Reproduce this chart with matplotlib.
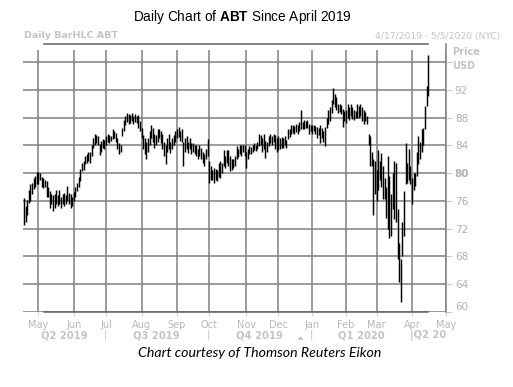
import matplotlib.pyplot as plt
import numpy as np
import pandas as pd

# trading calendar of the chart (NYSE holidays removed)
holidays = ['2019-04-19', '2019-05-27', '2019-07-04', '2019-09-02', '2019-11-28',
            '2019-12-25', '2020-01-01', '2020-01-20', '2020-02-17', '2020-04-10']
dates = pd.bdate_range('2019-04-17', '2020-05-05', freq='C', holidays=holidays)

# daily lows / highs of ABT, one line per month
low = [72.5, 72.9, 74.0, 75.7, 76.0, 77.0, 77.7, 78.0, 78.4,
       78.5, 79.0, 78.0, 77.8, 78.0, 76.5, 76.5, 75.0, 75.5, 74.6, 75.0, 75.5, 75.2, 75.5, 75.0, 75.5, 75.2, 75.5, 76.0, 75.5, 75.0, 75.3,
       76.0, 76.5, 77.4, 78.0, 78.9, 80.3, 80.5, 81.3, 81.5, 81.8, 81.4, 82.5, 83.6, 84.0, 84.3, 84.0, 82.6, 83.0, 83.6, 83.5,
       84.0, 84.5, 84.3, 84.6, 84.9, 85.0, 84.5, 83.5, 82.7, 83.0, 85.3, 86.0, 87.0, 87.3, 87.1, 87.2, 87.5, 87.1, 87.3, 87.2, 86.5, 86.0,
       85.0, 83.5, 82.7, 82.1, 83.0, 84.1, 85.0, 84.5, 83.6, 84.0, 84.5, 85.0, 84.3, 83.5, 82.5, 81.3, 83.0, 83.5, 82.9, 83.5, 84.1, 84.5,
       85.0, 85.2, 84.6, 84.5, 81.0, 83.0, 83.5, 82.9, 83.5, 82.7, 83.0, 82.7, 82.5, 82.0, 82.5, 82.0, 81.5, 81.0, 82.0, 82.5,
       78.6, 79.0, 79.0, 78.6, 79.0, 78.9, 79.5, 79.3, 80.0, 81.0, 80.7, 81.5, 81.0, 80.3, 80.5, 80.7, 81.0, 82.0, 82.3, 82.7, 82.5, 83.0, 82.5,
       80.7, 82.0, 82.7, 82.7, 83.0, 83.4, 83.2, 83.5, 83.9, 84.0, 83.1, 83.5, 82.2, 83.0, 83.9, 84.3, 84.0, 84.5, 83.5, 83.1,
       83.4, 83.5, 83.6, 83.6, 84.0, 83.6, 84.9, 85.2, 85.6, 85.8, 85.6, 85.9, 85.7, 86.0, 86.3, 86.3, 86.3, 86.5, 86.5, 85.7, 86.0,
       85.6, 86.0, 85.6, 85.0, 85.5, 84.3, 85.0, 84.5, 83.9, 86.5, 87.1, 87.5, 88.6, 89.9, 89.5, 89.1, 88.6, 88.8, 88.5, 86.7, 87.5,
       87.2, 88.0, 87.7, 88.2, 87.8, 87.7, 87.9, 88.0, 87.9, 88.2, 87.5, 87.1, 87.5, 87.1, 84.0, 81.0, 81.0, 74.0, 77.0,
       76.0, 77.5, 79.0, 78.0, 76.3, 76.3, 73.5, 72.0, 70.6, 71.0, 74.9, 73.4, 73.0, 67.7, 64.3, 61.4, 68.1, 71.0, 78.4, 78.6, 79.0, 78.5,
       75.6, 77.5, 78.1, 79.6, 81.3, 82.0, 83.1, 84.0, 86.4, 89.6, 91.1]
high = [76.4, 75.3, 76.2, 77.5, 78.4, 78.6, 79.3, 79.6, 80.1,
        80.2, 80.0, 79.5, 79.3, 79.0, 78.8, 78.0, 77.4, 77.0, 76.8, 77.0, 77.5, 76.8, 77.5, 76.5, 77.0, 77.2, 76.8, 78.1, 77.2, 77.0, 76.5,
        77.3, 78.0, 78.6, 79.5, 80.6, 81.5, 81.7, 82.5, 82.7, 83.1, 83.0, 84.0, 85.0, 85.6, 85.5, 85.3, 84.2, 84.6, 84.9, 84.8,
        85.3, 85.7, 85.5, 85.3, 86.3, 86.0, 85.8, 85.0, 84.3, 84.0, 86.5, 87.7, 88.3, 88.6, 88.5, 88.4, 88.6, 88.2, 88.5, 88.3, 88.4, 87.5,
        86.5, 85.5, 85.0, 84.5, 85.0, 86.0, 87.0, 86.5, 85.7, 85.5, 86.3, 86.3, 86.0, 85.6, 84.5, 84.0, 85.0, 85.6, 84.5, 85.0, 85.5, 86.0,
        86.4, 86.6, 86.0, 86.3, 84.5, 85.0, 85.3, 84.5, 85.0, 84.3, 84.3, 84.0, 84.1, 83.5, 84.0, 83.6, 83.0, 82.8, 83.5, 84.9,
        81.7, 81.0, 80.5, 80.7, 80.6, 80.5, 81.5, 81.7, 81.5, 83.4, 82.5, 83.4, 83.4, 82.4, 82.0, 82.1, 82.5, 83.9, 83.5, 84.1, 84.0, 84.0, 84.0,
        83.0, 83.5, 83.9, 83.7, 84.0, 84.3, 84.1, 84.5, 85.7, 85.5, 85.0, 85.6, 84.6, 84.5, 85.3, 85.7, 85.3, 85.7, 85.5, 85.0,
        85.3, 85.0, 85.2, 85.0, 85.3, 84.8, 86.4, 86.4, 87.0, 87.0, 86.8, 87.1, 87.0, 87.3, 89.1, 87.4, 87.7, 87.5, 87.7, 87.1, 87.0,
        87.0, 87.0, 86.8, 86.7, 86.5, 87.0, 86.5, 86.0, 86.7, 88.0, 89.1, 89.5, 90.5, 92.3, 91.4, 91.0, 90.0, 90.0, 89.8, 89.3, 89.0,
        89.1, 89.9, 89.5, 89.9, 89.5, 89.1, 89.0, 89.9, 89.7, 89.9, 89.5, 89.1, 88.8, 88.3, 85.6, 85.3, 83.0, 82.0, 81.7,
        80.5, 83.4, 81.7, 82.9, 81.0, 79.3, 78.0, 82.4, 79.6, 77.0, 80.0, 81.7, 81.4, 74.9, 70.0, 67.7, 72.9, 77.4, 84.3, 81.4, 83.5, 81.0,
        79.3, 80.0, 80.0, 83.1, 85.3, 84.5, 86.4, 86.5, 89.6, 92.5, 97.0]

price_ticks = [60, 64, 68, 72, 76, 80, 84, 88, 92, 96]
quarters = ['Q2 2019', 'Q3 2019', 'Q4 2019', 'Q1 2020']

plt.rcParams['font.family'] = 'DejaVu Sans'
plt.rcParams['mathtext.fontset'] = 'custom'
plt.rcParams['mathtext.rm'] = 'Liberation Sans'
plt.rcParams['mathtext.bf'] = 'Liberation Sans:bold'

grid_c = '#808080'

fig = plt.figure(figsize=(5.13, 3.87), dpi=100)
ax = fig.add_axes([23 / 513, 75 / 387, 423 / 513, 268 / 387])

x = np.arange(len(low))
ax.vlines(x, low, high, color='black', lw=1.05, zorder=3)

# first trading day of every month -> vertical grid / month labels (skip partial April 2019)
s = pd.Series(np.arange(len(dates)), index=dates)
month_start = s.groupby([dates.year, dates.month]).first().values[1:]
month_names = [dates[i].strftime('%b') for i in month_start]

ax.vlines(month_start, 60, 97.8, color=grid_c, lw=1.1, zorder=1)
ax.set_yticks(price_ticks)
ax.set_yticklabels(['' if p == 96 else str(p) for p in price_ticks])
ax.grid(axis='y', color=grid_c, lw=1.1, zorder=1)
ax.set_axisbelow(True)

ax.set_xlim(-0.6, 262.1)
ax.set_ylim(60, 98.6)
ax.set_xticks(month_start)
ax.set_xticklabels(month_names)

for side in ['left', 'top', 'bottom']:
    ax.spines[side].set_visible(False)
ax.spines['right'].set_color(grid_c)
ax.spines['right'].set_linewidth(1.1)

ax.yaxis.tick_right()
ax.tick_params(axis='y', length=4.3, width=0.8, color='#c8c8c8', labelcolor='#b0b0b0',
               labelsize=7.5, pad=2)
ax.tick_params(axis='x', length=3, width=0.8, color='#d0d0d0', labelcolor='#b8b8b8',
               labelsize=7, pad=3)
for lab in ax.get_yticklabels():
    if lab.get_text() == '80':
        lab.set_fontweight('bold')
    if lab.get_text() == '60':
        lab.set_va('bottom')

# frame lines at top and bottom
ax.plot([0.05, 0.957], [1, 1], transform=ax.transAxes, color='#606060', lw=1.1, clip_on=False)
ax.plot([0.05, 0.957], [0, 0], transform=ax.transAxes, color='#606060', lw=1.1, clip_on=False)

# quarter labels under the months
tr = ax.get_xaxis_transform()
q_bounds = [0, 51, 115, 179, 241]
for i, q in enumerate(quarters):
    mid = (q_bounds[i] + q_bounds[i + 1]) / 2 - 0.5
    ax.text(mid, -0.086, q, transform=tr, ha='center', va='center', fontsize=7.2,
            fontweight='bold', color='#c4c4c4')
for b in q_bounds[1:4]:
    ax.text(b - 0.5, -0.086, '|', transform=tr, ha='center', va='center', fontsize=7.2,
            color='#c4c4c4')
ax.text(q_bounds[4] - 1, -0.086, '|Q2 20', transform=tr, ha='left', va='center', fontsize=7.2,
        fontweight='bold', color='#c4c4c4')
fig.text(300 / 513, 1 - 341 / 387, '^', fontsize=6, color='#707070', ha='center', va='center')

fig.text(242 / 513, 1 - 17 / 387, r'Daily Chart of $\mathbf{ABT}$ Since April 2019',
         ha='center', va='center', fontsize=9.8, family='Liberation Sans')
fig.text(24 / 513, 1 - 36 / 387, 'Daily BarHLC ABT', ha='left', va='center', fontsize=6.8,
         fontweight='bold', color='#c4c4c4')
fig.text(375 / 513, 1 - 36 / 387, '4/17/2019 - 5/5/2020 (NYC)', ha='left', va='center',
         fontsize=6.6, color='#c4c4c4')
fig.text(452 / 513, 1 - 52 / 387, 'Price', ha='left', va='center', fontsize=7,
         fontweight='bold', color='#c4c4c4')
fig.text(452 / 513, 1 - 66 / 387, 'USD', ha='left', va='center', fontsize=7,
         fontweight='bold', color='#c4c4c4')
fig.text(260 / 513, 1 - 353 / 387, 'Chart courtesy of Thomson Reuters Eikon', ha='center',
         va='center', fontsize=10.2, style='italic', family='Lato')

fig.savefig('out.png', dpi=100)
